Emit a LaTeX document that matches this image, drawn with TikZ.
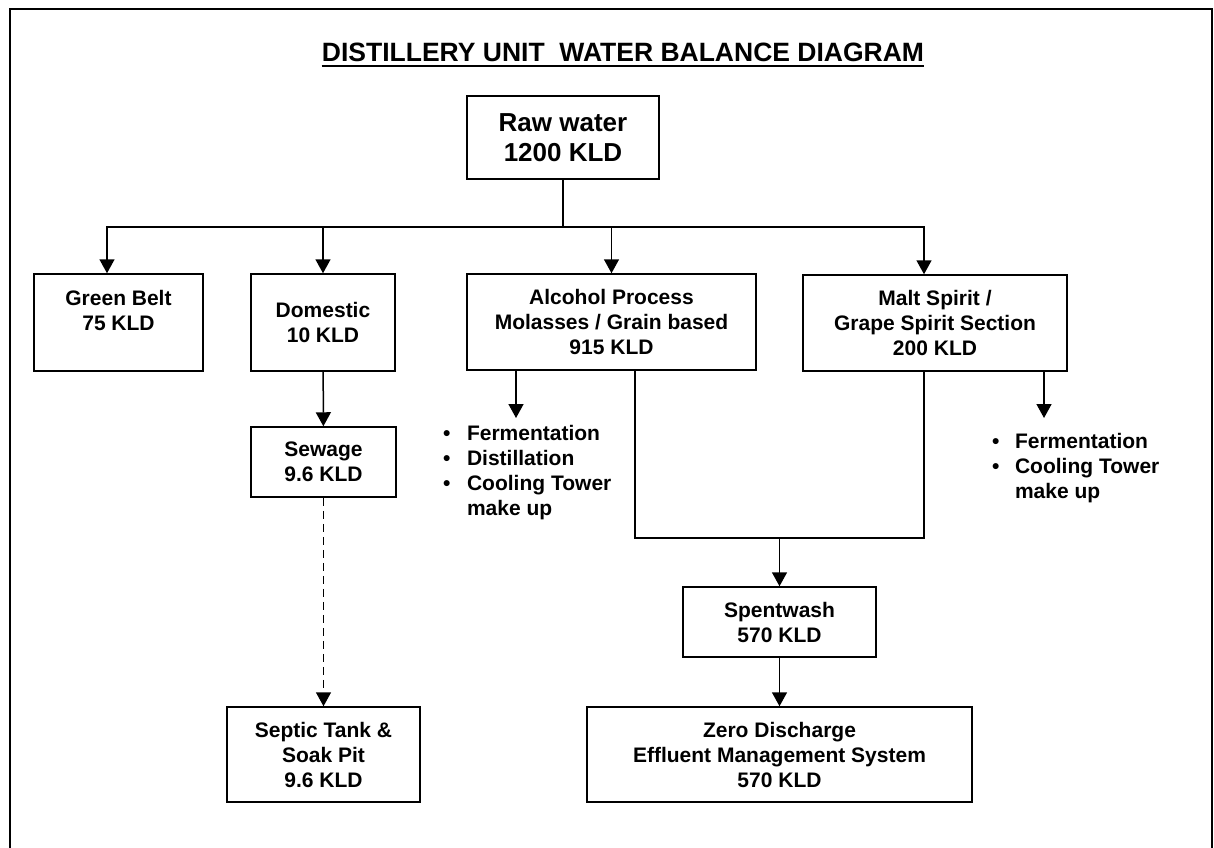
\documentclass[tikz,border=0pt]{standalone}
\usepackage{fontspec}
\setmainfont{Liberation Sans}
\usetikzlibrary{arrows.meta, positioning}

\begin{document}
\begin{tikzpicture}[x=1pt, y=-1pt, font=\bfseries\fontsize{21}{25}\selectfont]

  % styles
  \tikzstyle{box} = [rectangle, draw=black, line width=1.5pt, inner sep=0pt, text centered, align=center]
  \tikzstyle{arrow} = [line width=1.5pt, -{Triangle[width=15pt, length=14pt]}]
  \tikzstyle{wire} = [line width=1.5pt]
  \tikzstyle{bullets} = [inner sep=0pt, anchor=north west]

  % page and frame
  \clip (0,0) rectangle (1214,847);
  \fill[white] (0,0) rectangle (1214,847);
  \draw[line width=2.2pt] (10,9) rectangle (1212,900);

  % title
  \node (title) [anchor=base, inner sep=0pt, font=\bfseries\fontsize{26.5}{30}\selectfont] at (623,61) {DISTILLERY UNIT\ \ WATER BALANCE DIAGRAM};
  \draw[line width=2.5pt] ([yshift=-5pt]title.base west) -- ([yshift=-5pt]title.base east);

  % source
  \node (raw) [box, minimum width=192pt, minimum height=83pt, font=\bfseries\fontsize{26}{30}\selectfont] at (563,137.5) {Raw water\\1200 KLD};

  % first row
  \node (green) [box, minimum width=169pt, minimum height=97pt] at (118.5,322.5) {Green Belt\\75 KLD\\~};
  \node (domestic) [box, minimum width=144pt, minimum height=97pt] at (323,322.5) {Domestic\\10 KLD};
  \node (alcohol) [box, minimum width=289pt, minimum height=96pt] at (611.5,322) {Alcohol Process\\Molasses / Grain based\\915 KLD};
  \node (malt) [box, minimum width=264pt, minimum height=96pt] at (935,323) {Malt Spirit /\\Grape Spirit Section\\200 KLD};

  % domestic branch
  \node (sewage) [box, minimum width=145pt, minimum height=70pt] at (323.5,462) {Sewage\\9.6 KLD};
  \node (septic) [box, minimum width=193pt, minimum height=95pt] at (323.5,754.5) {Septic Tank \&\\Soak Pit\\9.6 KLD};

  % effluent branch
  \node (spent) [box, minimum width=193pt, minimum height=70pt] at (779.5,622) {Spentwash\\570 KLD};
  \node (zero) [box, minimum width=385pt, minimum height=95pt] at (779.5,754.5) {Zero Discharge\\Effluent Management System\\570 KLD};

  % uses
  \node (alclist) [bullets] at (443,423) {\begin{tabular}{@{}c@{\hspace{16.5pt}}l@{}}
    \textbullet & Fermentation\\
    \textbullet & Distillation\\
    \textbullet & Cooling Tower\\
                & make up
  \end{tabular}};
  \node (maltlist) [bullets] at (992,431) {\begin{tabular}{@{}c@{\hspace{15.5pt}}l@{}}
    \textbullet & Fermentation\\
    \textbullet & Cooling Tower\\
                & make up
  \end{tabular}};

  % arrows
  \coordinate (bus) at (563,227);
  \draw [wire] (raw) -- (bus);
  \draw [arrow] (bus) -| ([xshift=-11.5pt]green.north);
  \draw [arrow] (bus) -| (domestic.north);
  \draw [arrow] (bus) -| (alcohol.north);
  \draw [arrow] (bus) -| ([xshift=-11pt]malt.north);

  \draw [arrow] (domestic) -- (sewage);
  \draw [arrow, dash pattern=on 8pt off 5pt] (sewage) -- (septic);

  \coordinate (alcout) at (516,418);
  \coordinate (maltout) at (1044,418);
  \draw [arrow] (alcohol.south -| alcout) -- (alcout);
  \draw [arrow] (malt.south -| maltout) -- (maltout);

  \coordinate (merge) at (779.5,538);
  \draw [wire] ([xshift=23.5pt]alcohol.south) |- (merge) -| ([xshift=-11pt]malt.south);
  \draw [arrow] (merge) -- (spent);
  \draw [arrow] (spent) -- (zero);

\end{tikzpicture}
\end{document}
